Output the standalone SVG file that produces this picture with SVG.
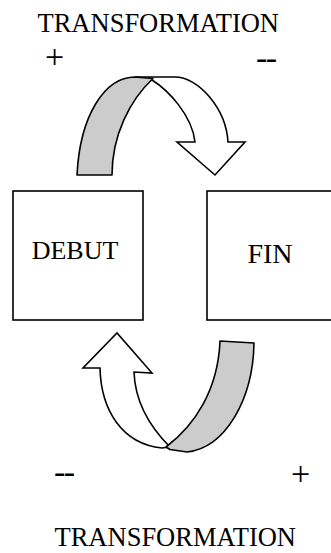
<svg xmlns="http://www.w3.org/2000/svg" width="331" height="553" viewBox="0 0 331 553">
<style>
.t{font-family:"Liberation Serif","Times New Roman",serif;fill:#000}
.box{fill:#fff;stroke:#000;stroke-width:1.6}
.w{fill:#fff;stroke:#000;stroke-width:1.6;stroke-linejoin:miter}
.g{fill:#cccccc;stroke:#000;stroke-width:1.6;stroke-linejoin:round}
.pm{font-size:34px}
.dd{font-size:34px;letter-spacing:-1.5px}
</style>
<rect width="331" height="553" fill="#fff"/>
<text class="t" x="37.5" y="32" font-size="26.5">TRANSFORMATION</text>
<text class="t pm" x="45" y="68">+</text>
<text class="t dd" x="256" y="68.5">--</text>
<g id="debut">
<rect class="box" x="13" y="191" width="130" height="129"/>
<text class="t" x="75" y="259" font-size="26" text-anchor="middle">DEBUT</text>
</g>
<g id="fin">
<rect class="box" x="207" y="191" width="140" height="129"/>
<text class="t" x="270" y="263" font-size="28" text-anchor="middle">FIN</text>
</g>
<g id="connectors">
<path class="w" d="M135,77 L175,77 C198,77 226,108 228,142 L245,142 L215,175 L177,142 L195,142 C192,115 168,90 152,80 Z"/>
<path class="g" d="M77,175 C80,115 105,77 135,77 L153,78.5 C130,100 112,135 112,175 Z"/>
<path class="w" d="M100,368 C101,410 122,444 162,448 L170,447 C148,425 135,400 134,372 L152,373 L117,333 L83,368 Z"/>
<path class="g" d="M220,341 L254,343 C253,400 225,448 187,452 L170,449.5 L166,447 C195,425 218,390 220,341 Z"/>
</g>
<text class="t dd" x="54" y="482.5">--</text>
<text class="t pm" x="291" y="485">+</text>
<text class="t" x="54.5" y="546" font-size="26.5">TRANSFORMATION</text>
</svg>
